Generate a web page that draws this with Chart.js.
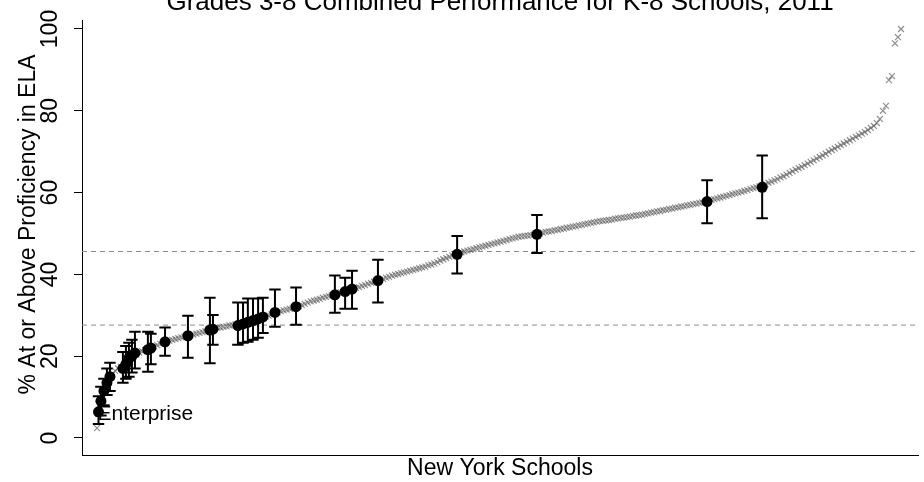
<!DOCTYPE html>
<html>
<head>
<meta charset="utf-8">
<script src="https://cdn.jsdelivr.net/npm/chart.js@4.4.1/dist/chart.umd.min.js"></script>
<style>
  html, body { margin: 0; padding: 0; background: #fff; }
  #wrap { width: 924px; height: 482px; }
</style>
</head>
<body>
<div id="wrap"><canvas id="chart" width="924" height="482"></canvas></div>
<script>
// Text
const chartTitle = 'Grades 3-8 Combined Performance for K-8 Schools, 2011';
const yAxisTitle = '% At or Above Proficiency in ELA';
const xAxisTitle = 'New York Schools';
const yTickValues = [0, 20, 40, 60, 80, 100];

// All New York schools, ranked from lowest to highest % proficient (rank = position in list)
const schoolScores = [
  2.4, 6.0, 9.0, 12.0, 14.0, 15.5, 16.4, 17.0, 17.4, 18.0,
  18.8, 19.4, 19.9, 20.4, 20.9, 21.2, 21.5, 21.8, 22.1, 22.4,
  22.7, 23.0, 23.3, 23.6, 23.8, 24.0, 24.2, 24.4, 24.6, 24.8,
  24.9, 25.1, 25.3, 25.5, 25.7, 25.9, 26.1, 26.3, 26.5, 26.7,
  26.9, 27.0, 27.2, 27.3, 27.5, 27.6, 27.8, 27.9, 28.1, 28.3,
  28.4, 28.6, 28.8, 29.0, 29.2, 29.5, 29.7, 29.9, 30.2, 30.5,
  30.7, 31.0, 31.2, 31.4, 31.6, 31.8, 32.0, 32.3, 32.5, 32.8,
  33.1, 33.4, 33.6, 33.8, 34.0, 34.3, 34.5, 34.7, 34.9, 35.1,
  35.4, 35.6, 35.8, 36.0, 36.3, 36.5, 36.7, 36.9, 37.2, 37.4,
  37.7, 37.9, 38.2, 38.4, 38.7, 38.9, 39.2, 39.4, 39.7, 39.9,
  40.1, 40.3, 40.5, 40.7, 40.9, 41.1, 41.3, 41.5, 41.7, 41.9,
  42.2, 42.4, 42.7, 43.0, 43.4, 43.7, 44.0, 44.3, 44.6, 44.9,
  45.1, 45.4, 45.6, 45.8, 46.0, 46.2, 46.4, 46.6, 46.8, 47.0,
  47.2, 47.4, 47.6, 47.8, 48.0, 48.2, 48.4, 48.6, 48.8, 49.0,
  49.2, 49.3, 49.4, 49.5, 49.6, 49.7, 49.8, 50.0, 50.2, 50.4,
  50.5, 50.6, 50.8, 50.9, 51.1, 51.2, 51.4, 51.5, 51.7, 51.8,
  52.0, 52.1, 52.3, 52.4, 52.6, 52.7, 52.9, 53.0, 53.1, 53.2,
  53.3, 53.4, 53.6, 53.7, 53.8, 53.9, 54.0, 54.1, 54.3, 54.4,
  54.5, 54.6, 54.8, 54.9, 55.1, 55.2, 55.4, 55.5, 55.7, 55.8,
  56.0, 56.1, 56.3, 56.4, 56.6, 56.7, 56.9, 57.0, 57.2, 57.3,
  57.5, 57.6, 57.8, 58.0, 58.2, 58.4, 58.6, 58.8, 59.0, 59.2,
  59.4, 59.6, 59.8, 60.0, 60.2, 60.4, 60.6, 60.9, 61.1, 61.3,
  61.5, 61.8, 62.1, 62.4, 62.7, 63.0, 63.3, 63.7, 64.0, 64.4,
  64.8, 65.2, 65.6, 66.0, 66.3, 66.7, 67.1, 67.5, 67.9, 68.3,
  68.7, 69.1, 69.5, 70.0, 70.4, 70.8, 71.2, 71.6, 72.0, 72.4,
  72.8, 73.2, 73.6, 74.0, 74.4, 74.8, 75.3, 75.8, 76.3, 77.0,
  78.0, 80.0, 81.2, 87.5, 88.5, 96.5, 98.0, 100
];

// K-8 schools shown with confidence intervals
const focusRank  = [1.5, 2.3, 3.3, 4.3, 5.3, 9.6, 10.6, 11.6, 12.6, 13.6, 17.9, 18.9, 23.6, 31.2, 38.5, 39.5,
                    47.8, 49.5, 51.1, 52.8, 54.5, 56.1, 60.1, 67.1, 80.0, 83.4, 85.7, 94.3, 120.6, 147.1, 203.6, 221.9];
const focusScore = [6.4, 9.0, 11.5, 13.5, 15.0, 17.0, 18.0, 19.5, 20.0, 20.8, 21.6, 22.0, 23.5, 25.0, 26.4, 26.6,
                    27.5, 27.9, 28.3, 28.7, 29.1, 29.6, 30.7, 32.1, 35.0, 35.8, 36.4, 38.5, 44.9, 49.8, 57.8, 61.3];
const focusLow   = [3.4, 5.5, 8.0, 10.5, 11.5, 13.5, 14.5, 15.0, 16.0, 17.0, 16.2, 18.0, 20.1, 19.6, 18.3, 22.8,
                    22.8, 23.3, 23.5, 24.0, 24.5, 25.7, 27.2, 27.7, 30.6, 31.6, 31.6, 33.1, 40.2, 45.2, 52.5, 53.7];
const focusHigh  = [10.2, 12.5, 14.5, 17.0, 18.4, 21.0, 22.5, 23.3, 24.0, 26.0, 26.0, 25.5, 27.0, 29.9, 34.3, 30.1,
                    33.1, 33.1, 34.1, 34.1, 34.1, 34.3, 36.3, 36.8, 39.7, 39.2, 40.9, 43.6, 49.4, 54.5, 63.0, 69.1];
const focusLabel = ['Enterprise'];

// Reference levels (dashed)
const referenceLines = [45.6, 27.6];

// Axis extents
const X_MIN = -3.98, X_MAX = 273.65;
const Y_MIN = -4.16, Y_MAX = 102.2;
const CAP = 1.9; // half-width of error-bar caps, in rank units

const FONT = '"Liberation Sans", Arial, Helvetica, sans-serif';

const grayPoints = schoolScores.map((v, i) => ({ x: i + 1, y: v }));
const focusPoints = focusRank.map((r, i) => ({ x: r, y: focusScore[i] }));

// Error bars as one broken line: stem, upper cap, lower cap
const errorPath = [];
focusRank.forEach((r, i) => {
  const lo = focusLow[i], hi = focusHigh[i];
  errorPath.push(
    { x: r, y: lo }, { x: r, y: hi }, { x: r, y: null },
    { x: r - CAP, y: hi }, { x: r + CAP, y: hi }, { x: r, y: null },
    { x: r - CAP, y: lo }, { x: r + CAP, y: lo }, { x: r, y: null }
  );
});

const refDatasets = referenceLines.map(v => ({
  type: 'line',
  data: [{ x: X_MIN, y: v }, { x: X_MAX, y: v }],
  borderColor: '#8a8a8a',
  borderWidth: 1,
  borderDash: [5, 4],
  pointRadius: 0,
  order: 3
}));

// Rotated y tick labels, y-axis title and the chart title
const frameText = {
  id: 'frameText',
  afterDraw(chart) {
    const s = chart.scales.y, ctx = chart.ctx, area = chart.chartArea;
    ctx.save();
    ctx.fillStyle = '#000';
    ctx.font = '23px ' + FONT;
    ctx.textAlign = 'center';
    ctx.textBaseline = 'middle';
    s.ticks.forEach(t => {
      const y = s.getPixelForValue(t.value);
      ctx.save();
      ctx.translate(s.right - 31, y);
      ctx.rotate(-Math.PI / 2);
      ctx.fillText(String(t.value), 0, 0);
      ctx.restore();
    });
    ctx.save();
    ctx.translate(29, area.top + (area.bottom - area.top) * 0.47);
    ctx.rotate(-Math.PI / 2);
    ctx.fillText(yAxisTitle, 0, 0);
    ctx.restore();
    ctx.font = '26px ' + FONT;
    ctx.textBaseline = 'alphabetic';
    ctx.fillText(chartTitle, (area.left + area.right) / 2, 10);
    ctx.restore();
  }
};

// School name next to its marker
const focusNames = {
  id: 'focusNames',
  afterDatasetsDraw(chart) {
    const meta = chart.getDatasetMeta(0);
    const ctx = chart.ctx;
    ctx.save();
    ctx.font = '21px ' + FONT;
    ctx.fillStyle = '#000';
    ctx.textAlign = 'left';
    ctx.textBaseline = 'middle';
    focusLabel.forEach((txt, i) => {
      if (!txt) return;
      const el = meta.data[i];
      ctx.fillText(txt, el.x - 1, el.y + 2);
    });
    ctx.restore();
  }
};

new Chart(document.getElementById('chart'), {
  type: 'scatter',
  data: {
    datasets: [
      {
        type: 'scatter',
        data: focusPoints,
        pointStyle: 'circle',
        pointRadius: 5.5,
        pointBackgroundColor: '#000',
        pointBorderColor: '#000',
        pointBorderWidth: 0,
        order: 0
      },
      {
        type: 'line',
        data: errorPath,
        borderColor: '#000',
        borderWidth: 2,
        pointRadius: 0,
        spanGaps: false,
        order: 1
      },
      {
        type: 'scatter',
        data: grayPoints,
        pointStyle: 'crossRot',
        pointRadius: 4.2,
        pointBorderColor: 'rgba(85,85,85,0.65)',
        pointBorderWidth: 1.2,
        order: 2
      },
      ...refDatasets
    ]
  },
  options: {
    responsive: false,
    animation: false,
    devicePixelRatio: 1,
    layout: { padding: { left: 0, right: 6, top: 20, bottom: 0 } },
    plugins: {
      legend: { display: false },
      tooltip: { enabled: false },
      title: { display: false }
    },
    scales: {
      x: {
        type: 'linear',
        min: X_MIN,
        max: X_MAX,
        ticks: { display: false },
        grid: { drawOnChartArea: false, drawTicks: false },
        border: { display: true, color: '#000', width: 1 },
        title: {
          display: true,
          text: xAxisTitle,
          color: '#000',
          font: { family: FONT, size: 23 },
          padding: { top: 0, bottom: 0 }
        },
        afterFit(scale) { scale.height = 27; }
      },
      y: {
        type: 'linear',
        min: Y_MIN,
        max: Y_MAX,
        ticks: { display: false },
        afterBuildTicks(scale) { scale.ticks = yTickValues.map(v => ({ value: v })); },
        grid: { drawOnChartArea: false, drawTicks: true, tickLength: 8, color: '#000', lineWidth: 1 },
        border: { display: true, color: '#000', width: 1 },
        title: { display: false },
        afterFit(scale) { scale.width = 82; }
      }
    }
  },
  plugins: [frameText, focusNames]
});
</script>
</body>
</html>
